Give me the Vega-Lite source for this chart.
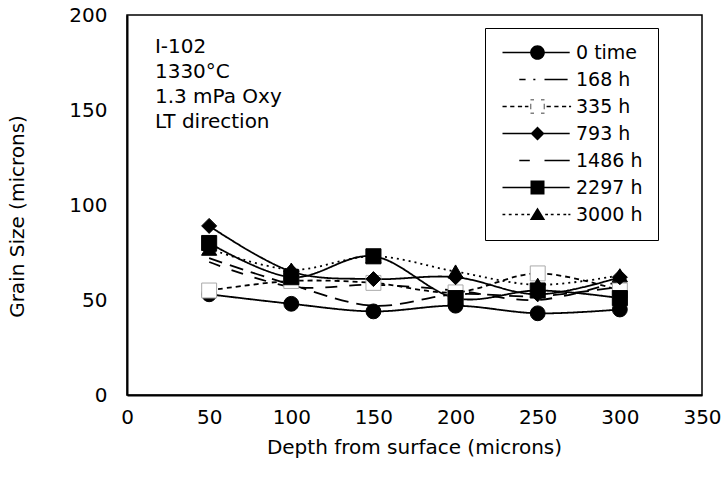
{
  "$schema": "https://vega.github.io/schema/vega-lite/v6.json",
  "width": 575,
  "height": 380,
  "autosize": "none",
  "padding": {"left": 127, "top": 15, "right": 21, "bottom": 88},
  "background": "white",
  "config": {
    "font": "DejaVu Sans",
    "view": {"stroke": "black", "strokeWidth": 1.5},
    "axis": {"labelColor": "black", "titleColor": "black", "labelFont": "DejaVu Sans", "titleFont": "DejaVu Sans"}
  },
  "data": {
    "values": [
      {"series": "0 time", "depth": 50, "grain": 53},
      {"series": "0 time", "depth": 100, "grain": 48},
      {"series": "0 time", "depth": 150, "grain": 44},
      {"series": "0 time", "depth": 200, "grain": 47},
      {"series": "0 time", "depth": 250, "grain": 43},
      {"series": "0 time", "depth": 300, "grain": 45},
      {"series": "168 h", "depth": 50, "grain": 72},
      {"series": "168 h", "depth": 100, "grain": 58},
      {"series": "168 h", "depth": 150, "grain": 47},
      {"series": "168 h", "depth": 200, "grain": 53},
      {"series": "168 h", "depth": 250, "grain": 52},
      {"series": "168 h", "depth": 300, "grain": 57},
      {"series": "335 h", "depth": 50, "grain": 55},
      {"series": "335 h", "depth": 100, "grain": 60},
      {"series": "335 h", "depth": 150, "grain": 59},
      {"series": "335 h", "depth": 200, "grain": 54},
      {"series": "335 h", "depth": 250, "grain": 64},
      {"series": "335 h", "depth": 300, "grain": 55},
      {"series": "793 h", "depth": 50, "grain": 89},
      {"series": "793 h", "depth": 100, "grain": 65},
      {"series": "793 h", "depth": 150, "grain": 61},
      {"series": "793 h", "depth": 200, "grain": 62},
      {"series": "793 h", "depth": 250, "grain": 53},
      {"series": "793 h", "depth": 300, "grain": 62},
      {"series": "1486 h", "depth": 50, "grain": 70},
      {"series": "1486 h", "depth": 100, "grain": 57},
      {"series": "1486 h", "depth": 150, "grain": 58},
      {"series": "1486 h", "depth": 200, "grain": 55},
      {"series": "1486 h", "depth": 250, "grain": 50},
      {"series": "1486 h", "depth": 300, "grain": 60},
      {"series": "2297 h", "depth": 50, "grain": 80},
      {"series": "2297 h", "depth": 100, "grain": 62},
      {"series": "2297 h", "depth": 150, "grain": 73},
      {"series": "2297 h", "depth": 200, "grain": 51},
      {"series": "2297 h", "depth": 250, "grain": 55},
      {"series": "2297 h", "depth": 300, "grain": 51},
      {"series": "3000 h", "depth": 50, "grain": 77},
      {"series": "3000 h", "depth": 100, "grain": 66},
      {"series": "3000 h", "depth": 150, "grain": 73},
      {"series": "3000 h", "depth": 200, "grain": 65},
      {"series": "3000 h", "depth": 250, "grain": 58},
      {"series": "3000 h", "depth": 300, "grain": 63}
    ]
  },
  "encoding": {
    "x": {
      "field": "depth", "type": "quantitative",
      "scale": {"domain": [0, 350], "nice": false, "zero": false},
      "axis": {
        "values": [0, 50, 100, 150, 200, 250, 300, 350],
        "grid": false, "ticks": false, "tickSize": 0,
        "domainColor": "black", "domainWidth": 2,
        "labelFontSize": 20, "labelPadding": 12, "labelFlush": false, "labelOverlap": false, "labelBound": false,
        "title": "Depth from surface (microns)", "titleFontSize": 20, "titleFontWeight": "normal",
        "titleX": 287, "titleY": 52, "titleBaseline": "middle", "titleAlign": "center"
      }
    },
    "y": {
      "field": "grain", "type": "quantitative",
      "scale": {"domain": [0, 200], "nice": false},
      "axis": {
        "values": [0, 50, 100, 150, 200],
        "grid": false, "ticks": false, "tickSize": 0,
        "domainColor": "black", "domainWidth": 2,
        "labelFontSize": 20, "labelPadding": 20, "labelFlush": false, "labelOverlap": false,
        "title": "Grain Size (microns)", "titleFontSize": 20, "titleFontWeight": "normal",
        "titleX": -110, "titleY": 201, "titleAngle": -90, "titleBaseline": "middle", "titleAlign": "center"
      }
    }
  },
  "layer": [
    {
      "mark": {"type": "line", "interpolate": "cardinal", "color": "black", "strokeWidth": 1.8},
      "encoding": {
        "detail": {"field": "series"},
        "strokeDash": {
          "field": "series", "type": "nominal",
          "scale": {
            "domain": ["0 time", "168 h", "335 h", "793 h", "1486 h", "2297 h", "3000 h"],
            "range": [[1, 0], [14, 8], [5, 4], [1, 0], [12, 12], [1, 0], [2, 4]]
          },
          "legend": null
        }
      }
    },
    {
      "transform": [{"filter": {"field": "series", "oneOf": ["0 time", "335 h", "793 h", "2297 h", "3000 h"]}}],
      "mark": {"type": "point", "filled": true, "strokeWidth": 1, "opacity": 1},
      "encoding": {
        "shape": {
          "field": "series", "type": "nominal",
          "scale": {"domain": ["0 time", "335 h", "793 h", "2297 h", "3000 h"], "range": ["circle", "square", "diamond", "square", "triangle-up"]},
          "legend": null
        },
        "fill": {
          "field": "series", "type": "nominal",
          "scale": {"domain": ["0 time", "335 h", "793 h", "2297 h", "3000 h"], "range": ["black", "white", "black", "black", "black"]},
          "legend": null
        },
        "stroke": {
          "field": "series", "type": "nominal",
          "scale": {"domain": ["0 time", "335 h", "793 h", "2297 h", "3000 h"], "range": ["black", "#aaaaaa", "black", "black", "black"]},
          "legend": null
        },
        "size": {
          "field": "series", "type": "nominal",
          "scale": {"domain": ["0 time", "335 h", "793 h", "2297 h", "3000 h"], "range": [220, 230, 190, 220, 190]},
          "legend": null
        }
      }
    },
    {
      "mark": {"type": "point", "filled": true, "color": "black", "opacity": 0},
      "encoding": {
        "shape": {
          "field": "series", "type": "nominal",
          "scale": {
            "domain": ["0 time", "168 h", "335 h", "793 h", "1486 h", "2297 h", "3000 h"],
            "range": [
              "M-5,-0.12H4.6V0.12H-5ZM-1.05,0A1.05,1.05 0 1,1 1.05,0A1.05,1.05 0 1,1 -1.05,0Z",
              "M-2.6,-0.12H-1.7V0.12H-2.6ZM-0.6,-0.12H-0.3V0.12H-0.6ZM1,-0.12H4.3V0.12H1Z",
              "M-5,-0.1H-4.4V0.1H-5ZM-3.9,-0.1H-3.3V0.1H-3.9ZM-2.8,-0.1H-2.2V0.1H-2.8ZM-1.8,-0.1H-1.3V0.1H-1.8ZM1.3,-0.1H1.9V0.1H1.3ZM2.4,-0.1H3V0.1H2.4ZM3.5,-0.1H4.1V0.1H3.5ZM4.5,-0.1H4.8V0.1H4.5ZM-1,-1H-0.5V-0.9H-1ZM0.5,-1H1V-0.9H0.5ZM-1,0.9H-0.5V1H-1ZM0.5,0.9H1V1H0.5ZM-1,-0.4H-0.9V0.4H-1ZM0.9,-0.4H1V0.4H0.9Z",
              "M-5,-0.12H4.6V0.12H-5ZM0,-1L1,0L0,1L-1,0Z",
              "M-2.6,-0.12H-1.1V0.12H-2.6ZM1,-0.12H4.6V0.12H1Z",
              "M-5,-0.12H4.6V0.12H-5ZM-1,-1H1V1H-1Z",
              "M-5,-0.1H-4.6V0.1H-5ZM-4.1,-0.1H-3.7V0.1H-4.1ZM-3.2,-0.1H-2.8V0.1H-3.2ZM-2.3,-0.1H-1.9V0.1H-2.3ZM-1.5,-0.1H-1.1V0.1H-1.5ZM1.1,-0.1H1.5V0.1H1.1ZM1.9,-0.1H2.3V0.1H1.9ZM2.8,-0.1H3.2V0.1H2.8ZM3.7,-0.1H4.1V0.1H3.7ZM4.4,-0.1H4.7V0.1H4.4ZM0,-1L1.1,0.8H-1.1Z"
            ]
          },
          "legend": {
            "orient": "none", "legendX": 358, "legendY": 13, "title": null,
            "symbolSize": 196, "symbolStrokeWidth": 0, "symbolFillColor": "black", "symbolOpacity": 1,
            "labelFontSize": 19, "labelFont": "DejaVu Sans", "labelColor": "black",
            "padding": 15, "rowPadding": 7, "symbolOffset": 28, "labelOffset": 29,
            "strokeColor": "black", "fillColor": "white",
            "encode": {
              "legend": {"update": {"strokeWidth": {"value": 2}}},
              "symbols": {"update": {"fill": {"value": "black"}, "fillOpacity": {"value": 1}, "opacity": {"value": 1}, "strokeWidth": {"value": 0}}}
            }
          }
        }
      }
    },
    {
      "transform": [{"filter": "datum.series === '0 time' && datum.depth === 50"}],
      "mark": {"type": "text", "align": "left", "baseline": "alphabetic", "fontSize": 20, "lineHeight": 25, "color": "black", "font": "DejaVu Sans",
        "text": ["I-102", "1330°C", "1.3 mPa Oxy", "LT direction"]},
      "encoding": {
        "x": {"datum": 17, "type": "quantitative"},
        "y": {"datum": 180, "type": "quantitative"}
      }
    }
  ],
  "resolve": {"scale": {"shape": "independent"}}
}
